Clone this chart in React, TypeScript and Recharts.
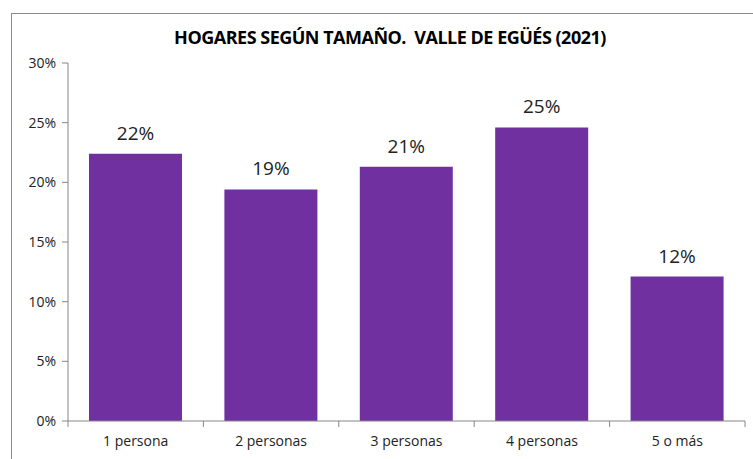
import React from 'react';
import { BarChart, Bar, XAxis, YAxis, LabelList } from 'recharts';

const categories = ['1 persona', '2 personas', '3 personas', '4 personas', '5 o más'];
const values = [22.4, 19.4, 21.3, 24.6, 12.1];
const yTicks = [0, 5, 10, 15, 20, 25, 30];
const title = 'HOGARES SEGÚN TAMAÑO.  VALLE DE EGÜÉS (2021)';

const data = categories.map((c, i) => ({ name: c, value: values[i] }));

const FONT = '"Open Sans", "Noto Sans", sans-serif';
const AXIS = '#868686';
const PLOT_BOTTOM = 421;

function CatTick(props: any) {
  const { x, payload, index, visibleTicksCount } = props;
  const half = payload && payload.offset ? payload.offset : 67.7;
  const isLast = index === (visibleTicksCount ?? categories.length) - 1;
  return (
    <g>
      <line x1={x - half} x2={x - half} y1={PLOT_BOTTOM} y2={PLOT_BOTTOM + 6} stroke={AXIS} />
      {isLast && <line x1={x + half} x2={x + half} y1={PLOT_BOTTOM} y2={PLOT_BOTTOM + 6} stroke={AXIS} />}
      <text x={x} y={PLOT_BOTTOM + 25} textAnchor="middle" fill="#222" fontSize={14} fontFamily={FONT}>
        {payload.value}
      </text>
    </g>
  );
}

export default function App() {
  return (
    <div style={{ position: 'fixed', left: 0, top: 0, width: 753, height: 459, background: '#fff', overflow: 'hidden' }}>
      <div style={{ position: 'absolute', left: 11, top: 13, width: 760, height: 470, border: '1px solid #8a8a8a', boxSizing: 'border-box' }} />
      <div style={{ position: 'absolute', left: 0, top: 25, width: 780, textAlign: 'center', fontFamily: FONT, fontWeight: 700, fontSize: 18, color: '#000', letterSpacing: -0.5, whiteSpace: 'pre' }}>
        {title}
      </div>
      <div style={{ position: 'absolute', left: 0, top: 0 }}>
        <BarChart width={753} height={459} data={data} margin={{ top: 63, right: 8, bottom: 8, left: 8 }} barCategoryGap="15.5%">
          <XAxis dataKey="name" height={30} stroke={AXIS} tickLine={false} tick={<CatTick />} interval={0} />
          <YAxis width={60} domain={[0, 30]} ticks={yTicks} tickFormatter={(v) => `${v}%`} stroke={AXIS} tick={{ fill: '#222', fontSize: 14, fontFamily: FONT }} tickSize={6} tickMargin={6} axisLine={{ stroke: AXIS }} />
          <Bar dataKey="value" fill="#7030A0" isAnimationActive={false}>
            <LabelList dataKey="value" position="top" offset={14} formatter={(v) => `${Math.round(Number(v))}%`} style={{ fill: '#222', fontSize: 19, fontFamily: FONT }} />
          </Bar>
        </BarChart>
      </div>
    </div>
  );
}
